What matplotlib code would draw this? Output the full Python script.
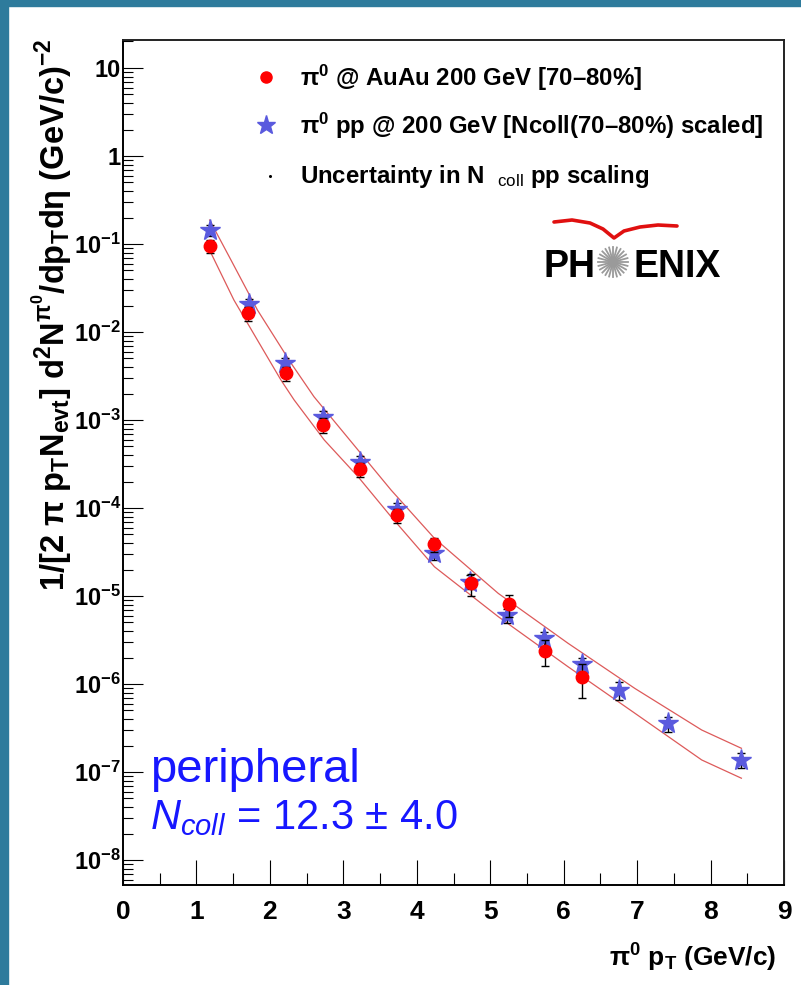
import numpy as np
import matplotlib
matplotlib.use("Agg")
import matplotlib.pyplot as plt
from matplotlib.patches import Rectangle, Circle
from matplotlib.ticker import FixedLocator, FixedFormatter, LogLocator, MultipleLocator, NullFormatter

plt.rcParams.update({
    "font.family": ["Liberation Sans", "DejaVu Sans"],
    "mathtext.fontset": "custom",
    "mathtext.rm": "Liberation Sans",
    "mathtext.bf": "Liberation Sans:bold",
    "mathtext.it": "Liberation Sans:italic",
    "mathtext.sf": "Liberation Sans",
    "mathtext.default": "bf",
})

# ---- data -------------------------------------------------------------
# pi0 in Au+Au 200 GeV, 70-80% centrality
auau_pt = [1.19, 1.70, 2.22, 2.72, 3.23, 3.73, 4.24, 4.74, 5.25, 5.75, 6.25]
auau_yield = [0.0957, 0.0163, 0.0034, 8.8e-4, 2.75e-4, 8.26e-5, 3.9e-5,
              1.39e-5, 8.1e-6, 2.39e-6, 1.19e-6]
auau_err = [0.016, 0.0028, 0.00065, 1.6e-4, 5.0e-5, 1.5e-5, 0.7e-5,
            0.38e-5, 2.3e-6, 0.78e-6, 0.5e-6]

# pi0 in p+p 200 GeV, scaled by Ncoll(70-80%)
pp_pt = [1.18, 1.71, 2.21, 2.72, 3.23, 3.73, 4.24, 4.73, 5.23, 5.73, 6.25,
         6.75, 7.42, 8.42]
pp_yield = [0.144, 0.0208, 0.0044, 1.09e-3, 3.36e-4, 9.75e-5, 3.08e-5,
            1.46e-5, 6.08e-6, 3.3e-6, 1.69e-6, 8.55e-7, 3.57e-7, 1.37e-7]
pp_err = [0.02, 0.003, 0.0007, 1.8e-4, 5.0e-5, 1.6e-5, 0.5e-5, 0.25e-5,
          1.1e-6, 0.6e-6, 0.3e-6, 1.9e-7, 0.7e-7, 0.27e-7]

# Ncoll scaling uncertainty band (upper / lower edges)
band_hi_pt = [1.18, 1.47, 1.83, 2.29, 2.60, 3.20, 3.65, 4.24, 5.11, 6.06,
              6.97, 7.88, 8.42]
band_hi = [0.187, 0.0658, 0.0178, 4.4e-3, 1.84e-3, 4.56e-4, 1.60e-4,
           4.53e-5, 1.07e-5, 2.90e-6, 8.9e-7, 3.0e-7, 1.86e-7]
band_lo_pt = [1.20, 1.51, 1.83, 2.15, 2.33, 2.74, 3.20, 3.65, 4.24, 5.11,
              6.06, 6.97, 7.88, 8.42]
band_lo = [0.0783, 0.0231, 8.1e-3, 2.85e-3, 1.69e-3, 5.93e-4, 2.27e-4,
           7.96e-5, 2.15e-5, 5.82e-6, 1.57e-6, 4.65e-7, 1.37e-7, 8.5e-8]

x_ticks = [0, 1, 2, 3, 4, 5, 6, 7, 8, 9]
x_labels = ["0", "1", "2", "3", "4", "5", "6", "7", "8", "9"]
y_ticks = [1e1, 1e0, 1e-1, 1e-2, 1e-3, 1e-4, 1e-5, 1e-6, 1e-7, 1e-8]
y_labels = ["10", "1", r"$10^{-1}$", r"$10^{-2}$", r"$10^{-3}$", r"$10^{-4}$",
            r"$10^{-5}$", r"$10^{-6}$", r"$10^{-7}$", r"$10^{-8}$"]

# ---- figure -------------------------------------------------------------
W, H = 801, 985
fig = plt.figure(figsize=(W / 100, H / 100), dpi=100)
fig.patch.set_facecolor("white")


def P(px, py):
    """pixel position (from top-left) -> figure fraction"""
    return px / W, 1 - py / H


border = "#2e7b9c"
fig.patches.append(Rectangle((0, 1 - 6 / H), 1, 6 / H, transform=fig.transFigure,
                             color=border, zorder=0))
fig.patches.append(Rectangle((0, 0), 8 / W, 1, transform=fig.transFigure,
                             color=border, zorder=0))

ax = fig.add_axes([123 / W, 1 - 885 / H, (784 - 123) / W, (885 - 40) / H])
ax.set_xlim(0, 9)
ax.set_yscale("log")
ax.set_ylim(5.2e-9, 20.8)

for s in ax.spines.values():
    s.set_linewidth(1.4)
ax.spines["top"].set_color("#222222")
ax.spines["right"].set_color("#222222")

ax.xaxis.set_major_locator(FixedLocator(x_ticks))
ax.xaxis.set_major_formatter(FixedFormatter(x_labels))
ax.xaxis.set_minor_locator(MultipleLocator(0.5))
ax.yaxis.set_major_locator(FixedLocator(y_ticks))
ax.yaxis.set_major_formatter(FixedFormatter(y_labels))
ax.yaxis.set_minor_locator(LogLocator(base=10, subs=np.arange(2, 10), numticks=30))
ax.yaxis.set_minor_formatter(NullFormatter())

ax.tick_params(axis="x", which="major", direction="in", length=18, width=0.8,
               pad=11, labelsize=19, top=False)
ax.tick_params(axis="x", which="minor", direction="in", length=8.5, width=0.8,
               top=False)
ax.tick_params(axis="y", which="major", direction="in", length=14.5, width=0.8,
               pad=1.5, labelsize=17, right=False)
ax.tick_params(axis="y", which="minor", direction="in", length=7, width=0.8,
               right=False)
for lab in ax.get_xticklabels() + ax.get_yticklabels():
    lab.set_fontweight("bold")

# uncertainty band
band_col = "#dd5a5a"
ax.plot(band_hi_pt, band_hi, color=band_col, lw=0.9, zorder=2)
ax.plot(band_lo_pt, band_lo, color=band_col, lw=0.9, zorder=2)

# p+p scaled
star_col = "#5a5ade"
ax.errorbar(pp_pt, pp_yield, yerr=pp_err, fmt="none", ecolor="black",
            elinewidth=1.0, capsize=3.2, capthick=1.0, zorder=3)
ax.plot(pp_pt, pp_yield, ls="none", marker="*", ms=15.5, color=star_col,
        mec=star_col, zorder=3.1)

# Au+Au
ax.errorbar(auau_pt, auau_yield, yerr=auau_err, fmt="none", ecolor="black",
            elinewidth=1.0, capsize=3.2, capthick=1.0, zorder=4)
ax.plot(auau_pt, auau_yield, ls="none", marker="o", ms=9, color="#ff0000",
        mec="#ff0000", zorder=4.1)

# axis titles
fig.text(*P(52, 38), r"$1/[2\ \pi\ p_{T}N_{evt}]\ d^{2}N^{\pi^{0}}/dp_{T}d\eta\ (GeV/c)^{-2}$",
         rotation=90, ha="center", va="top", fontsize=23.5, fontweight="bold")
fig.text(*P(776, 958), r"$\pi^{0}\ p_{T}\ (GeV/c)$", ha="right", va="center",
         fontsize=19, fontweight="bold")

# legend
ax.plot(*P(266, 77), marker="o", ms=8, color="#ff0000", transform=fig.transFigure,
        clip_on=False, zorder=5)
ax.plot(*P(266, 125), marker="*", ms=14, color=star_col, transform=fig.transFigure,
        clip_on=False, zorder=5)
ax.plot(*P(270, 176), marker="o", ms=1.2, color="black", transform=fig.transFigure,
        clip_on=False, zorder=5)
leg_fs = 17.3
fig.text(*P(300, 78), r"$\pi^{0}$ @ AuAu 200 GeV [70–80%]", ha="left", va="center",
         fontsize=leg_fs, fontweight="bold")
fig.text(*P(300, 126), r"$\pi^{0}$ pp @ 200 GeV [Ncoll(70–80%) scaled]", ha="left",
         va="center", fontsize=leg_fs, fontweight="bold")
fig.text(*P(300, 176), r"Uncertainty in N  $_{\mathrm{coll}}$ pp scaling", ha="left",
         va="center", fontsize=leg_fs, fontweight="bold")

# experiment logo
fig.text(*P(543, 277), "PH", ha="left", va="baseline", fontsize=27, fontweight="bold")
fig.text(*P(633, 277), "ENIX", ha="left", va="baseline", fontsize=27, fontweight="bold")
cx, cy = 613, 262
for ang in np.arange(0, 180, 15):
    a = np.deg2rad(ang)
    dx, dy = 15 * np.cos(a), 15 * np.sin(a)
    fx0, fy0 = P(cx - dx, cy - dy)
    fx1, fy1 = P(cx + dx, cy + dy)
    fig.add_artist(plt.Line2D([fx0, fx1], [fy0, fy1], color="#9a9a9a", lw=1.3,
                              transform=fig.transFigure))
fig.add_artist(Circle(P(cx, cy), 4 / W, transform=fig.transFigure,
                      facecolor="white", edgecolor="#9a9a9a", lw=1.0))
sw_px = [554, 572, 590, 603, 614, 624, 640, 658, 677]
sw_py = [222, 220, 223, 229, 238, 231, 227, 225, 226]
sw = np.array([P(a, b) for a, b in zip(sw_px, sw_py)])
fig.add_artist(plt.Line2D(sw[:, 0], sw[:, 1], color="#e01010", lw=2.6,
                          solid_capstyle="round", transform=fig.transFigure))

# centrality annotation
blue = "#1717ff"
fig.text(*P(150, 770), "peripheral", ha="left", va="center", fontsize=34,
         color=blue)
fig.text(*P(150, 818), r"$\mathit{N}_{\mathit{coll}}$ = 12.3 ± 4.0", ha="left",
         va="center", fontsize=30, color=blue)

fig.savefig("out.png", dpi=100)
